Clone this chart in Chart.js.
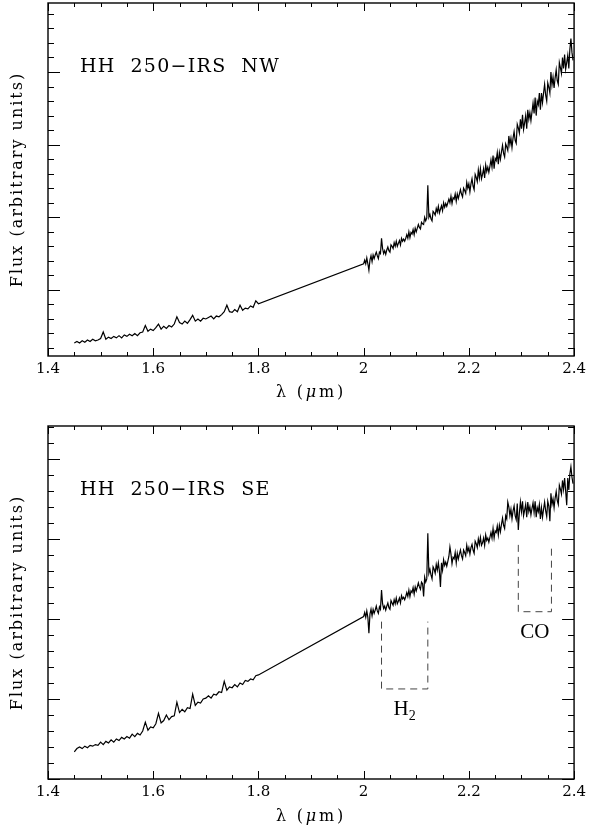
<!DOCTYPE html>
<html>
<head>
<meta charset="utf-8">
<script src="https://cdn.jsdelivr.net/npm/chart.js@4"></script>
<style>
  html, body { margin: 0; padding: 0; background: #fff; }
  #wrap { position: relative; width: 590px; height: 832px; }
  .panel { position: absolute; left: 0; width: 590px; height: 416px; }
</style>
</head>
<body>
<div id="wrap">
  <div class="panel" style="top:0"><canvas id="nw"></canvas></div>
  <div class="panel" style="top:416px"><canvas id="se"></canvas></div>
</div>
<script>
// Wavelength axis (micron)
const xTickValues = [1.4, 1.6, 1.8, 2.0, 2.2, 2.4];
const xTickLabels = ['1.4', '1.6', '1.8', '2', '2.2', '2.4'];

// H-band sampling shared by both sources
const hWave = [
  1.450,1.455,1.460,1.465,1.470,1.475,1.480,1.485,1.490,1.495,
  1.500,1.505,1.510,1.515,1.520,1.525,1.530,1.535,1.540,1.545,
  1.550,1.555,1.560,1.565,1.570,1.575,1.580,1.585,1.590,1.595,
  1.600,1.605,1.610,1.615,1.620,1.625,1.630,1.635,1.640,1.645,
  1.650,1.655,1.660,1.665,1.670,1.675,1.680,1.685,1.690,1.695,
  1.700,1.705,1.710,1.715,1.720,1.725,1.730,1.735,1.740,1.745,
  1.750,1.755,1.760,1.765,1.770,1.775,1.780,1.785,1.790,1.795,
  1.800
];

// K-band sampling shared by both sources
const kWave = [
  2.000,2.002,2.004,2.006,2.008,2.010,2.012,2.014,2.016,2.018,
  2.020,2.022,2.024,2.026,2.028,2.030,2.032,2.034,2.036,2.038,
  2.040,2.042,2.044,2.046,2.048,2.050,2.052,2.054,2.056,2.058,
  2.060,2.062,2.064,2.066,2.068,2.070,2.072,2.074,2.076,2.078,
  2.080,2.082,2.084,2.086,2.088,2.090,2.092,2.094,2.096,2.098,
  2.100,2.102,2.104,2.106,2.108,2.110,2.112,2.114,2.116,2.118,
  2.120,2.122,2.124,2.126,2.128,2.130,2.132,2.134,2.136,2.138,
  2.140,2.142,2.144,2.146,2.148,2.150,2.152,2.154,2.156,2.158,
  2.160,2.162,2.164,2.166,2.168,2.170,2.172,2.174,2.176,2.178,
  2.180,2.182,2.184,2.186,2.188,2.190,2.192,2.194,2.196,2.198,
  2.200,2.202,2.204,2.206,2.208,2.210,2.212,2.214,2.216,2.218,
  2.220,2.222,2.224,2.226,2.228,2.230,2.232,2.234,2.236,2.238,
  2.240,2.242,2.244,2.246,2.248,2.250,2.252,2.254,2.256,2.258,
  2.260,2.262,2.264,2.266,2.268,2.270,2.272,2.274,2.276,2.278,
  2.280,2.282,2.284,2.286,2.288,2.290,2.292,2.294,2.296,2.298,
  2.300,2.302,2.304,2.306,2.308,2.310,2.312,2.314,2.316,2.318,
  2.320,2.322,2.324,2.326,2.328,2.330,2.332,2.334,2.336,2.338,
  2.340,2.342,2.344,2.346,2.348,2.350,2.352,2.354,2.356,2.358,
  2.360,2.362,2.364,2.366,2.368,2.370,2.372,2.374,2.376,2.378,
  2.380,2.382,2.384,2.386,2.388,2.390,2.392,2.394,2.396,2.398
];

// HH 250-IRS NW
const nwHFlux = [
  0.27,0.29,0.27,0.30,0.28,0.31,0.29,0.32,0.30,0.31,
  0.33,0.42,0.32,0.35,0.33,0.36,0.34,0.37,0.34,0.38,
  0.36,0.39,0.37,0.40,0.37,0.41,0.42,0.51,0.43,0.46,
  0.44,0.48,0.53,0.46,0.50,0.47,0.51,0.49,0.53,0.63,
  0.55,0.53,0.57,0.54,0.59,0.65,0.57,0.60,0.57,0.61,
  0.60,0.62,0.64,0.60,0.64,0.63,0.66,0.70,0.79,0.70,
  0.69,0.73,0.70,0.79,0.72,0.75,0.74,0.78,0.76,0.85,
  0.81
];
const nwKFlux = [
  1.36,1.41,1.36,1.44,1.36,1.27,1.41,1.47,1.39,1.48,
  1.43,1.48,1.52,1.47,1.43,1.52,1.50,1.71,1.57,1.50,
  1.54,1.49,1.55,1.59,1.54,1.52,1.62,1.60,1.57,1.65,
  1.60,1.67,1.60,1.64,1.68,1.62,1.71,1.67,1.70,1.67,
  1.71,1.76,1.71,1.80,1.72,1.79,1.77,1.83,1.76,1.85,
  1.80,1.85,1.90,1.86,1.84,1.93,1.91,1.90,2.00,1.95,
  1.99,2.44,2.00,2.04,1.98,1.95,2.08,2.06,2.03,2.12,
  2.07,2.15,2.06,2.11,2.16,2.09,2.20,2.14,2.19,2.15,
  2.20,2.25,2.20,2.29,2.19,2.27,2.25,2.32,2.22,2.32,
  2.26,2.32,2.38,2.32,2.28,2.40,2.37,2.33,2.48,2.40,
  2.46,2.35,2.46,2.53,2.43,2.38,2.59,2.55,2.49,2.65,
  2.54,2.67,2.53,2.59,2.67,2.54,2.72,2.63,2.69,2.62,
  2.70,2.79,2.69,2.85,2.67,2.81,2.78,2.89,2.73,2.89,
  2.80,2.90,2.99,2.88,2.83,3.01,2.97,2.92,3.12,3.00,
  3.09,2.96,3.09,3.18,3.06,3.02,3.28,3.23,3.16,3.35,
  3.22,3.41,3.21,3.30,3.40,3.22,3.48,3.35,3.44,3.33,
  3.45,3.57,3.43,3.65,3.40,3.60,3.55,3.71,3.48,3.71,
  3.58,3.71,3.83,3.68,3.60,3.85,3.79,3.71,4.00,3.82,
  3.93,3.78,3.92,4.03,3.88,3.83,4.13,4.06,3.98,4.20,
  4.05,4.24,4.04,4.13,4.23,4.05,4.31,4.46,4.27,4.16
];

// HH 250-IRS SE
const seHFlux = [
  0.34,0.38,0.40,0.38,0.41,0.39,0.42,0.41,0.43,0.42,
  0.46,0.43,0.47,0.45,0.49,0.46,0.50,0.48,0.52,0.50,
  0.53,0.51,0.56,0.53,0.57,0.55,0.60,0.71,0.61,0.65,
  0.64,0.69,0.82,0.70,0.73,0.80,0.74,0.78,0.79,0.96,
  0.83,0.87,0.84,0.89,0.88,1.06,0.92,0.96,0.95,1.00,
  1.01,1.04,1.01,1.06,1.05,1.09,1.08,1.22,1.11,1.15,
  1.14,1.18,1.15,1.20,1.18,1.23,1.22,1.25,1.24,1.29,
  1.30
];
const seKFlux = [
  2.03,2.08,2.02,2.10,2.02,1.82,2.06,2.12,2.04,2.12,
  2.07,2.11,2.16,2.10,2.07,2.15,2.12,2.36,2.19,2.13,
  2.16,2.11,2.16,2.20,2.14,2.12,2.23,2.20,2.17,2.24,
  2.19,2.26,2.19,2.22,2.26,2.20,2.29,2.25,2.27,2.24,
  2.28,2.33,2.28,2.36,2.28,2.35,2.33,2.39,2.31,2.40,
  2.35,2.40,2.45,2.40,2.37,2.46,2.44,2.28,2.52,2.46,
  2.50,3.07,2.57,2.62,2.55,2.50,2.65,2.62,2.57,2.68,
  2.61,2.70,2.60,2.40,2.70,2.61,2.74,2.67,2.71,2.66,
  2.72,2.78,2.90,2.81,2.69,2.77,2.75,2.83,2.70,2.82,
  2.75,2.81,2.86,2.79,2.75,2.86,2.83,2.79,2.92,2.84,
  2.89,2.81,2.89,2.93,2.86,2.82,2.97,2.94,2.89,3.00,
  2.93,3.02,2.92,2.95,3.01,2.92,3.05,2.98,3.01,2.96,
  3.02,3.08,3.01,3.13,3.01,3.10,3.08,3.16,3.05,3.17,
  3.09,3.18,3.26,3.17,3.13,3.29,3.25,3.46,3.40,3.29,
  3.37,3.25,3.35,3.41,3.29,3.24,3.44,3.11,3.32,3.46,
  3.34,3.47,3.29,3.36,3.43,3.27,3.46,3.34,3.40,3.30,
  3.38,3.45,3.33,3.47,3.27,3.39,3.34,3.43,3.25,3.39,
  3.27,3.37,3.46,3.35,3.28,3.47,3.41,3.22,3.57,3.43,
  3.50,3.39,3.51,3.59,3.48,3.43,3.67,3.62,3.56,3.73,
  3.62,3.76,3.60,3.42,3.76,3.61,3.81,3.90,3.77,3.69
];

// Line identifications marked under the SE spectrum
const h2Waves = [2.034, 2.122];
const h2Span = [1.966, 1.125];   // top, bottom of bracket (flux units)
const coWaves = [2.294, 2.357];
const coSpan = [2.925, 2.09];

function toPoints(wave, flux) {
  return wave.map((w, i) => ({ x: w, y: flux[i] }));
}
function bracket(waves, span) {
  return [
    { x: waves[0], y: span[0] }, { x: waves[0], y: span[1] },
    { x: waves[1], y: span[1] }, { x: waves[1], y: span[0] }
  ];
}

const SERIF = '"DejaVu Serif", serif';
const TIMES = '"Liberation Serif", "Times New Roman", serif';

function spaced(ctx, px) {
  if ('letterSpacing' in ctx) ctx.letterSpacing = px + 'px';
}

// Frame, inward ticks and text for each panel
const frameTicks = {
  id: 'frameTicks',
  afterDatasetsDraw(chart, args, opts) {
    const { ctx, chartArea: a, scales: { x, y } } = chart;
    ctx.save();
    ctx.strokeStyle = '#000';
    ctx.lineWidth = 1;
    ctx.beginPath();
    for (let i = 0; i <= 20; i++) {
      const v = 1.4 + i * 0.05;
      const px = Math.round(x.getPixelForValue(v)) + 0.5;
      const len = i % 4 === 0 ? 8 : 4;
      ctx.moveTo(px, a.bottom); ctx.lineTo(px, a.bottom - len);
      ctx.moveTo(px, a.top); ctx.lineTo(px, a.top + len);
    }
    const start = Math.ceil(y.min / 0.2 - 1e-6);
    const end = Math.floor(y.max / 0.2 + 1e-6);
    for (let k = start; k <= end; k++) {
      const py = Math.round(y.getPixelForValue(k * 0.2)) + 0.5;
      const len = k % 5 === 0 ? 12 : 6;
      ctx.moveTo(a.left, py); ctx.lineTo(a.left + len, py);
      ctx.moveTo(a.right, py); ctx.lineTo(a.right - len, py);
    }
    ctx.stroke();
    ctx.lineWidth = 1.4;
    ctx.strokeRect(a.left, a.top, a.right - a.left, a.bottom - a.top);

    ctx.fillStyle = '#000';
    // panel name
    ctx.save();
    ctx.font = '19px ' + SERIF;
    spaced(ctx, 1.3);
    ctx.textAlign = 'left';
    ctx.textBaseline = 'alphabetic';
    ctx.fillText(opts.name, a.left + 32, a.top + 69);
    ctx.restore();

    // x axis title: λ (μm), with italic mu
    ctx.save();
    spaced(ctx, 2.8);
    const cx = (a.left + a.right) / 2;
    const ty = a.bottom + opts.xTitleOffset;
    const f = '16px ' + SERIF;
    const fi = 'italic 16px ' + SERIF;
    ctx.font = f; const w1 = ctx.measureText('λ (').width;
    ctx.font = fi; const w2 = ctx.measureText('μ').width;
    ctx.font = f; const w3 = ctx.measureText('m)').width;
    const sx = cx - (w1 + w2 + w3) / 2;
    ctx.textAlign = 'left';
    ctx.textBaseline = 'middle';
    ctx.font = f; ctx.fillText('λ (', sx, ty);
    ctx.font = fi; ctx.fillText('μ', sx + w1, ty);
    ctx.font = f; ctx.fillText('m)', sx + w1 + w2, ty);
    ctx.restore();

    // y axis title
    ctx.save();
    ctx.translate(18, (a.top + a.bottom) / 2);
    ctx.rotate(-Math.PI / 2);
    spaced(ctx, 2.0);
    ctx.textAlign = 'center';
    ctx.textBaseline = 'middle';
    ctx.font = '16px ' + SERIF;
    ctx.fillText('Flux (arbitrary units)', 0, 0);
    ctx.restore();

    // line identifications
    if (opts.marks) {
      ctx.textBaseline = 'alphabetic';
      ctx.textAlign = 'left';
      const hx = x.getPixelForValue((h2Waves[0] + h2Waves[1]) / 2);
      const hy = y.getPixelForValue(h2Span[1]) + 26;
      ctx.font = '21px ' + TIMES;
      const wH = ctx.measureText('H').width;
      ctx.font = '14px ' + TIMES;
      const w2s = ctx.measureText('2').width;
      const hs = hx - (wH + w2s) / 2;
      ctx.font = '21px ' + TIMES;
      ctx.fillText('H', hs, hy);
      ctx.font = '14px ' + TIMES;
      ctx.fillText('2', hs + wH, hy + 5);
      ctx.textAlign = 'center';
      ctx.font = '21px ' + TIMES;
      const ox = x.getPixelForValue((coWaves[0] + coWaves[1]) / 2);
      const oy = y.getPixelForValue(coSpan[1]) + 26;
      ctx.fillText('CO', ox, oy);
    }
    ctx.restore();
  }
};

function makePanel(id, spec) {
  const datasets = [{
    data: toPoints(hWave, spec.hFlux).concat(toPoints(kWave, spec.kFlux)),
    borderColor: '#000',
    borderWidth: 1.2,
    pointRadius: 0,
    tension: 0
  }];
  (spec.brackets || []).forEach(b => datasets.push({
    data: b,
    borderColor: '#444',
    borderWidth: 1,
    borderDash: [7, 5],
    pointRadius: 0,
    tension: 0
  }));
  return new Chart(document.getElementById(id), {
    type: 'line',
    data: { datasets },
    options: {
      responsive: true,
      maintainAspectRatio: false,
      animation: false,
      devicePixelRatio: 1,
      layout: { padding: { top: spec.padTop, right: 12, left: 0, bottom: 0 } },
      plugins: {
        legend: { display: false },
        tooltip: { enabled: false },
        frameTicks: { name: spec.name, marks: spec.marks, xTitleOffset: spec.xTitleOffset }
      },
      scales: {
        x: {
          type: 'linear', min: 1.4, max: 2.4,
          grid: { display: false, drawTicks: false },
          border: { display: false },
          ticks: {
            autoSkip: false, maxRotation: 0, padding: 4, color: '#000',
            font: { family: SERIF, size: 15 },
            callback: (v) => {
              const i = xTickValues.findIndex(t => Math.abs(t - v) < 1e-6);
              return i >= 0 ? xTickLabels[i] : '';
            }
          },
          afterBuildTicks: (s) => { s.ticks = xTickValues.map(v => ({ value: v })); },
          afterFit: (s) => { s.height = spec.xAxisHeight; }
        },
        y: {
          type: 'linear', min: spec.yMin, max: spec.yMax,
          grid: { display: false, drawTicks: false },
          border: { display: false },
          ticks: { display: false },
          afterFit: (s) => { s.width = 48; }
        }
      }
    },
    plugins: [frameTicks]
  });
}

makePanel('nw', {
  name: 'HH  250\u2212IRS  NW',
  hFlux: nwHFlux, kFlux: nwKFlux,
  yMin: 0.09, yMax: 4.95,
  padTop: 3, xAxisHeight: 60, xTitleOffset: 37,
  marks: false
});

makePanel('se', {
  name: 'HH  250\u2212IRS  SE',
  hFlux: seHFlux, kFlux: seKFlux,
  yMin: 0, yMax: 4.41,
  padTop: 10, xAxisHeight: 53, xTitleOffset: 38,
  marks: true,
  brackets: [bracket(h2Waves, h2Span), bracket(coWaves, coSpan)]
});
</script>
</body>
</html>
